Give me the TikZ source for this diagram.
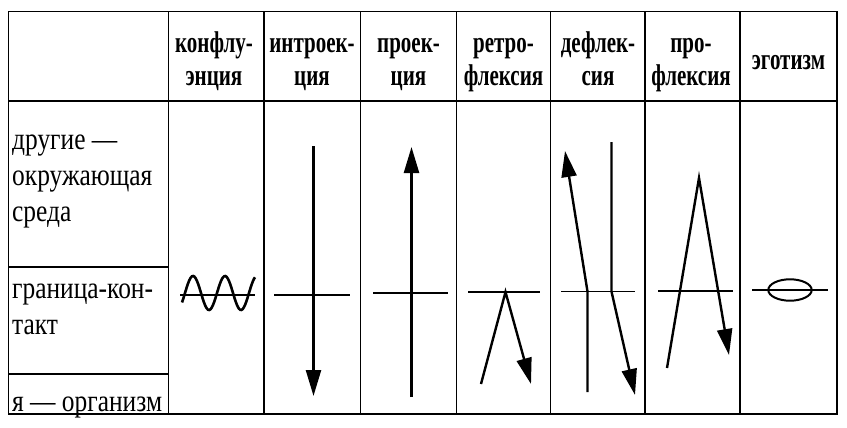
\documentclass[tikz,border=0pt]{standalone}
\usepackage{fontspec}
\usepackage{tikz}
\usetikzlibrary{arrows.meta}
\newfontfamily\headfont[FakeStretch=0.7]{Liberation Serif}
\newfontfamily\sidefont[FakeStretch=0.82]{Liberation Serif}
\tikzset{
 rule/.style={line width=1.5pt},
 head/.style={font=\headfont\bfseries\fontsize{30pt}{33pt}\selectfont, align=center, anchor=base, inner sep=0pt},
 side/.style={font=\sidefont\fontsize{31pt}{36pt}\selectfont, align=left, anchor=base west, inner sep=0pt},
 contact/.style={line width=1.5pt},
 flow/.style={line width=2.4pt, -{Triangle[length=26pt,width=15pt]}},
 bare/.style={line width=2.6pt}
}

\begin{document}
\begin{tikzpicture}[x=1pt,y=-1pt] % one unit is one pixel, y goes down
 \useasboundingbox (0,0) rectangle (847,428);
 % table
 \draw[rule] (8.5,11.5) rectangle (837,414);
 \draw[rule] (8.5,101) -- (837,101);
 \foreach \x in {168.5,264,360.5,456.5,550.5,645,740}
 {\draw[rule] (\x,11.5) -- (\x,414);}
 \draw[rule] (8.5,267) -- (168.5,267);
 \draw[rule] (8.5,374) -- (168.5,374);
 % column heads (base = last line)
 \foreach \name/\x/\t in {conf/214/{конфлу-\\энция}, intro/312/{интроек-\\ция}, proj/408.5/{проек-\\ция}, retro/503.5/{ретро-\\флексия}, defl/598/{дефлек-\\сия}, profl/691/{про-\\флексия}}
 {\node[head] (\name) at (\x,86) {\t};}
 \node[head] (ego) at (788.5,70) {эготизм};
 % row labels
 \node[side] (others) at (12,221) {другие —\\окружающая\\среда};
 \node[side] (border) at (12,334) {граница-кон-\\такт};
 \node[side] (self) at (12,411) {я — организм};
 % contact lines
 \foreach \a/\b/\y in {180/255/295, 274/350/295, 373/448/293, 468/540/292, 561/635/291.5, 658/733/291, 752/828/290}
 {\draw[contact] (\a,\y) -- (\b,\y);}
 % confluence
 \draw[bare] plot[smooth,domain=182:255,samples=60] (\x,{293-17*cos((\x-193)*11.25)});
 % introjection and projection
 \draw[flow] (313.5,146) -- (313.5,396);
 \draw[flow] (411.5,397) -- (411.5,147);
 % retroflection
 \draw[flow] (481,384) -- (505.5,292) -- (531,384);
 % deflection
 \draw[flow] (587.5,392) -- (587.5,291.5) -- (565,151);
 \draw[flow] (611.5,142) -- (611.5,291.5) -- (635,395);
 % proflection
 \draw[flow] (667,368) -- (699,178) -- (729,355);
 % egotism
 \draw[line width=2pt] (790,290) ellipse (21.7 and 10.7);
\end{tikzpicture}
\end{document}
